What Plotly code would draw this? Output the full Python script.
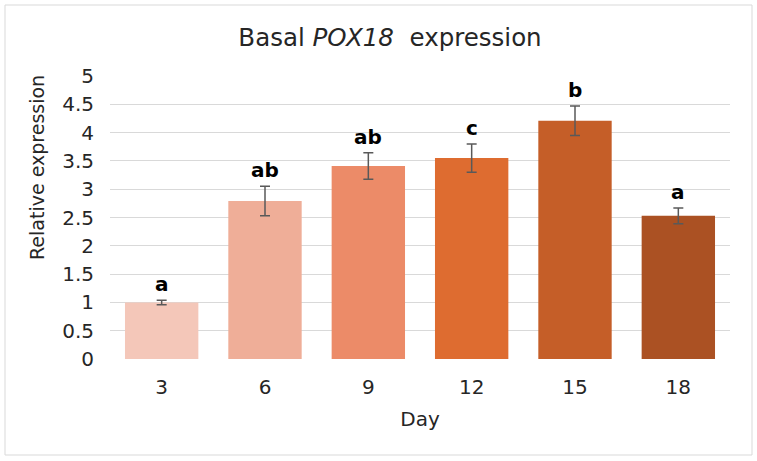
import plotly.graph_objects as go

days = ["3", "6", "9", "12", "15", "18"]
values = [1.0, 2.79, 3.41, 3.55, 4.21, 2.53]
errors = [0.04, 0.26, 0.235, 0.25, 0.26, 0.14]
letters = ["a", "ab", "ab", "c", "b", "a"]
colors = ["#F4C7B9", "#EFAE98", "#EC8B68", "#DE6C30", "#C55E28", "#AB5123"]

W, H = 757, 461
L, R, T, B = 110, 27, 76, 102
pw = W - L - R
ph = H - T - B

fig = go.Figure()
fig.add_trace(go.Bar(
    x=days, y=values,
    marker=dict(color=colors, line=dict(width=0)),
    error_y=dict(type="data", array=errors, visible=True, color="#595959", thickness=1.5, width=5),
    hoverinfo="skip",
))

for i, (v, e, t) in enumerate(zip(values, errors, letters)):
    fig.add_annotation(x=i, y=v + e, text=f"<b>{t}</b>", showarrow=False,
                       yanchor="bottom", yshift=2,
                       font=dict(family="DejaVu Sans", size=20, color="#000000"))

# y-axis title (sits above centre, as in the reference)
fig.add_annotation(xref="paper", yref="paper", x=(37 - L) / pw, y=(H - B - 168) / ph,
                   text="Relative expression", textangle=-90, showarrow=False,
                   xanchor="center", yanchor="middle",
                   font=dict(family="DejaVu Sans", size=19, color="#262626"))

fig.add_shape(type="rect", xref="paper", yref="paper",
              x0=(5 - L) / pw, x1=(752 - L) / pw,
              y0=(H - B - 455) / ph, y1=(H - B - 5) / ph,
              line=dict(color="#D9D9D9", width=1), fillcolor="rgba(0,0,0,0)", layer="below")

fig.update_layout(
    width=W, height=H,
    margin=dict(l=L, r=R, t=T, b=B),
    paper_bgcolor="white", plot_bgcolor="white",
    bargap=0.29,
    showlegend=False,
    title=dict(text="Basal <i>POX18</i>  expression", x=390 / W, xref="container", xanchor="center",
               y=1 - 37 / H, yanchor="middle",
               font=dict(family="DejaVu Sans", size=24.5, color="#262626")),
    font=dict(family="DejaVu Sans", size=20, color="#262626"),
    xaxis=dict(type="category", range=[-0.5, 5.5], title=dict(text="Day", standoff=13, font=dict(size=20)),
               showgrid=False, showline=False, ticks="", tickfont=dict(size=20),
               ticklabelstandoff=14),
    yaxis=dict(range=[0, 5], dtick=0.5, showgrid=True, gridcolor="#D9D9D9", gridwidth=1,
               zeroline=False, showline=False, ticks="", tickfont=dict(size=20),
               ticklabelstandoff=15),
)

fig.write_html("out.html")
